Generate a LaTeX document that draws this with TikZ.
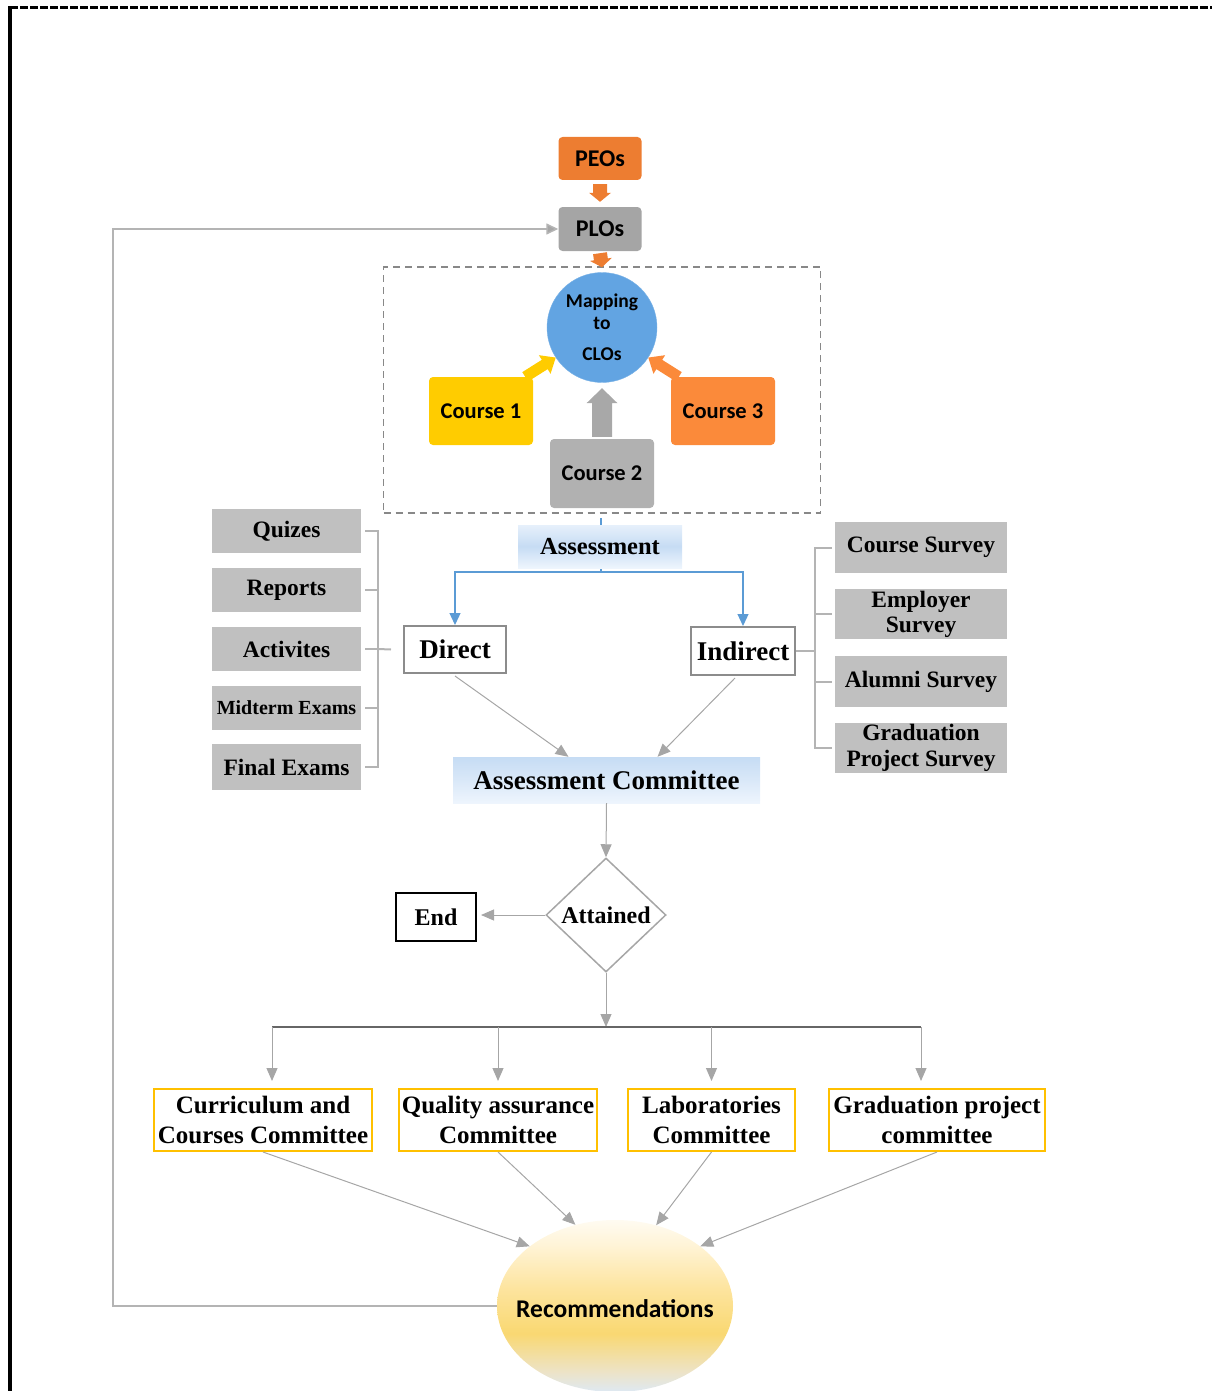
\documentclass[tikz,border=0pt]{standalone}
\usepackage{fontspec}
\setmainfont{Liberation Serif}
\newfontfamily\calfont{Carlito}
\usetikzlibrary{arrows.meta,calc,shapes.geometric}

\definecolor{peoorange}{HTML}{ED7D31}
\definecolor{plogray}{HTML}{A5A5A5}
\definecolor{mapblue}{HTML}{62A4E2}
\definecolor{cyellow}{HTML}{FFCC00}
\definecolor{corange}{HTML}{FB8A3A}
\definecolor{cgray}{HTML}{B1B1B1}
\definecolor{itemgray}{HTML}{C0C0C0}
\definecolor{brkgray}{HTML}{B4B4B4}
\definecolor{linkgray}{HTML}{A6A6A6}
\definecolor{flowblue}{HTML}{5B9BD5}
\definecolor{comyellow}{HTML}{FFC000}
\definecolor{boxedge}{HTML}{8C8C8C}
\definecolor{dashgray}{HTML}{888888}
\definecolor{bandtop}{HTML}{E6F0FB}
\definecolor{bandmid}{HTML}{C6DCF4}
\definecolor{bandlow}{HTML}{EEF5FD}
\definecolor{recblue}{HTML}{DEE9F3}
\definecolor{recbeige}{HTML}{EDE3C6}
\definecolor{recyellow}{HTML}{F9D872}
\definecolor{reclight}{HTML}{FDE49E}
\definecolor{reccream}{HTML}{FFF4D8}
\definecolor{recwhite}{HTML}{FFFBF1}

\pgfdeclareverticalshading{recshade}{100bp}{color(0bp)=(recblue); color(25bp)=(recblue); color(31bp)=(recbeige); color(42bp)=(recyellow); color(55bp)=(reclight); color(68bp)=(reccream); color(75bp)=(recwhite); color(100bp)=(recwhite)}

% block arrow: from, to, shaft half width, head half width, head length, colour
\newcommand\blkarrow[6]{%
  \coordinate (hb) at ($(#2)!#5pt!(#1)$);
  \fill[#6] ($(#1)!#3pt!90:(#2)$) -- ($(hb)!#3pt!90:(#2)$) -- ($(hb)!#4pt!90:(#2)$)
    -- (#2) -- ($(hb)!#4pt!-90:(#2)$) -- ($(hb)!#3pt!-90:(#2)$)
    -- ($(#1)!#3pt!-90:(#2)$) -- cycle;}

\tikzset{
  sansbox/.style={rounded corners=4pt, inner sep=0pt, align=center,
    font=\calfont\bfseries\fontsize{22.5}{24}\selectfont},
  item/.style={fill=itemgray, minimum width=149pt, minimum height=44pt, inner sep=0pt,
    align=center, font=\bfseries\fontsize{23.5}{25}\selectfont},
  survey/.style={fill=itemgray, minimum width=172pt, minimum height=50pt, inner sep=0pt,
    align=center, font=\bfseries\fontsize{23.5}{25}\selectfont},
  plainbox/.style={draw=boxedge, line width=2pt, fill=white, inner sep=0pt,
    font=\bfseries\fontsize{27}{29}\selectfont},
  band/.style={top color=bandtop, bottom color=bandlow, middle color=bandmid, inner sep=0pt},
  comm/.style={draw=comyellow, line width=2pt, fill=white, inner sep=0pt, minimum height=62pt,
    align=center, font=\bfseries\fontsize{25}{30}\selectfont},
  link/.style={draw=linkgray, line width=1pt, -{Triangle[length=13pt,width=11pt]}},
  bluelink/.style={draw=flowblue, line width=1.2pt, -{Triangle[length=12pt,width=11pt]}},
  brk/.style={draw=brkgray, line width=2pt},
}

\begin{document}
\begin{tikzpicture}[x=1pt,y=-1pt]
\useasboundingbox (0,0) rectangle (1212,1391);

% page frame
\draw[line width=3pt, dash pattern=on 8pt off 2pt] (10,8) -- (1212,8);
\draw[line width=4pt] (10,6.5) -- (10,1391);

% objectives
\node[sansbox, fill=peoorange, minimum width=83pt, minimum height=43pt,
  font=\calfont\bfseries\fontsize{24}{26}\selectfont] (peos) at (600,158.5) {PEOs};
\node[sansbox, fill=plogray, minimum width=83pt, minimum height=44pt,
  font=\calfont\bfseries\fontsize{24}{26}\selectfont] (plos) at (600,229) {PLOs};

% course mapping group
\node[draw=dashgray, line width=1.5pt, dash pattern=on 7pt off 5pt, minimum width=437pt,
  minimum height=246pt, inner sep=0pt] (clobox) at (602,390) {};
\node[circle, fill=mapblue, draw=mapblue!85!white, minimum size=110pt, inner sep=0pt, align=center,
  font=\calfont\bfseries\fontsize{19.5}{22}\selectfont] (map) at (602,327.5) {Mapping\\to\\[9pt]CLOs};
\node[sansbox, fill=cyellow, minimum width=104pt, minimum height=68pt] (c1) at (481,411) {Course 1};
\node[sansbox, fill=corange, minimum width=104pt, minimum height=68pt] (c3) at (723,411) {Course 3};
\node[sansbox, fill=cgray, minimum width=104pt, minimum height=69pt] (c2) at (602,473.5) {Course 2};

\coordinate (pa1) at ($(peos.south)+(0,4)$);
\coordinate (pa2) at ($(plos.north)+(0,-5)$);
\blkarrow{pa1}{pa2}{7}{11}{9}{peoorange}
\coordinate (pb1) at ($(plos.south)+(0,2)$);
\coordinate (pb2) at ($(map.north)+(0,-5)$);
\blkarrow{pb1}{pb2}{7}{11}{8}{peoorange}
\coordinate (ca1) at ($(c2.north)+(0,-2)$);
\coordinate (ca2) at ($(map.south)+(0,5.5)$);
\blkarrow{ca1}{ca2}{10}{15.5}{15}{cgray!95!black}
\coordinate (ya1) at ($(c1.north east)+(-8,0)$);
\blkarrow{ya1}{map.213}{5.5}{11}{13}{cyellow}
\coordinate (oa1) at ($(c3.north west)+(8,0)$);
\blkarrow{oa1}{map.-33}{5.5}{11}{13}{corange}

% assessment split
\node[plainbox, minimum width=102pt, minimum height=47pt] (direct) at (455,649.5) {Direct};
\node[plainbox, minimum width=104pt, minimum height=48pt] (indirect) at (743,651) {Indirect};
\coordinate (atop) at (601,518);
\coordinate (split) at (601,572);
\draw[flowblue, line width=1.2pt] (atop) -- (split);
\draw[bluelink] (split) -| (direct.north);
\draw[bluelink] (split) -| (indirect.north);
\node[band, minimum width=164pt, minimum height=43pt,
  font=\bfseries\fontsize{24.5}{26}\selectfont] (assess) at (600,546.5) {Assessment};

% direct measures
\node[item] (quiz) at (286.5,531) {Quizes};
\node[item] (rep) at (286.5,590) {Reports};
\node[item] (act) at (286.5,649) {Activites};
\node[item, font=\bfseries\fontsize{20}{22}\selectfont] (mid) at (286.5,708) {Midterm Exams};
\node[item, minimum height=46pt] (fin) at (286.5,767) {Final Exams};
\draw[brk] ($(quiz.east)+(4,0)$) -| ($(fin.east)+(17,0)$) -- ($(fin.east)+(4,0)$);
\foreach \n in {rep,act,mid} \draw[brk] ($(\n.east)+(4,0)$) -- +(13,0);
\draw[brk] ($(act.east)+(17,0)$) -- ($(direct.west)+(-12,0)$);

% indirect measures
\node[survey, minimum height=51pt] (cs) at (921,547.5) {Course Survey};
\node[survey, font=\bfseries\fontsize{23.5}{25}\selectfont] (emp) at (921,614) {Employer\\Survey};
\node[survey, minimum height=51pt] (alu) at (921,681.5) {Alumni Survey};
\node[survey, font=\bfseries\fontsize{23.5}{26}\selectfont] (grad) at (921,748) {Graduation\\Project Survey};
\draw[brk] ($(cs.west)+(-3,0)$) -| ($(grad.west)+(-20,0)$) -- ($(grad.west)+(-3,0)$);
\foreach \n in {emp,alu} \draw[brk] ($(\n.west)+(-3,0)$) -- +(-17,0);
\draw[brk] (indirect.east) -- ($(indirect.east -| cs.west)+(-20,0)$);

% committee and decision
\node[band, top color=bandmid, bottom color=bandlow, middle color=bandtop!60!bandmid,
  minimum width=307pt, minimum height=46pt,
  font=\bfseries\fontsize{27}{29}\selectfont] (ac) at (606.5,780) {Assessment Committee};
\draw[link] ($(direct.south)+(0,2)$) -- ($(ac.north)+(-38,0)$);
\draw[link] ($(indirect.south)+(-8,2)$) -- ($(ac.north)+(51,0)$);

\node[diamond, draw=linkgray, line width=1.5pt, fill=white, minimum width=120pt, minimum height=114pt,
  inner sep=0pt, font=\bfseries\fontsize{24}{26}\selectfont] (att) at (606,915) {Attained};
\node[draw=black, line width=2pt, minimum width=80pt, minimum height=48pt, inner sep=0pt,
  font=\bfseries\fontsize{24}{26}\selectfont] (end) at (436,917) {End};
\draw[link] (ac.south) -- (att.north);
\draw[link, shorten >=4pt] (att.west) -- (att.west -| end.east);

% committees
\node[comm, minimum width=218pt] (cc) at (263,1120) {Curriculum and\\Courses Committee};
\node[comm, minimum width=198pt] (qa) at (498,1120) {Quality assurance\\Committee};
\node[comm, minimum width=167pt] (lab) at (711.5,1120) {Laboratories\\Committee};
\node[comm, minimum width=216pt] (gp) at (937,1120) {Graduation project\\committee};

\coordinate (bus) at (606,1027);
\coordinate (busl) at (272,1027);
\coordinate (busr) at (921,1027);
\draw[link] (att.south) -- (bus);
\draw[draw=black!60, line width=1.2pt] (busl) -- (busr);
\draw[link, shorten >=7pt] (busl) -- (busl |- cc.north);
\draw[link, shorten >=7pt] (qa.north |- bus) -- (qa.north);
\draw[link, shorten >=7pt] (lab.north |- bus) -- (lab.north);
\draw[link, shorten >=7pt] (busr) -- (busr |- gp.north);

% recommendations and feedback
\node[ellipse, shading=recshade, minimum width=236pt, minimum height=172pt, inner sep=0pt,
  label={[font=\calfont\bfseries\fontsize{25.5}{28}\selectfont, inner sep=0pt, yshift=-3pt]center:Recommendations}]
  (rec) at (615,1306) {};
\draw[link] (cc.south) -- (rec.145);
\draw[link] (qa.south) -- (rec.116);
\draw[link] (lab.south) -- (rec.63);
\draw[link] (gp.south) -- (rec.35);

\coordinate (fbc) at (113,229);
\draw[draw=brkgray, line width=1.5pt, -{Triangle[length=12pt,width=11pt,fill=linkgray]}]
  (rec.west) -| (fbc) -- (plos.west);
\end{tikzpicture}
\end{document}
